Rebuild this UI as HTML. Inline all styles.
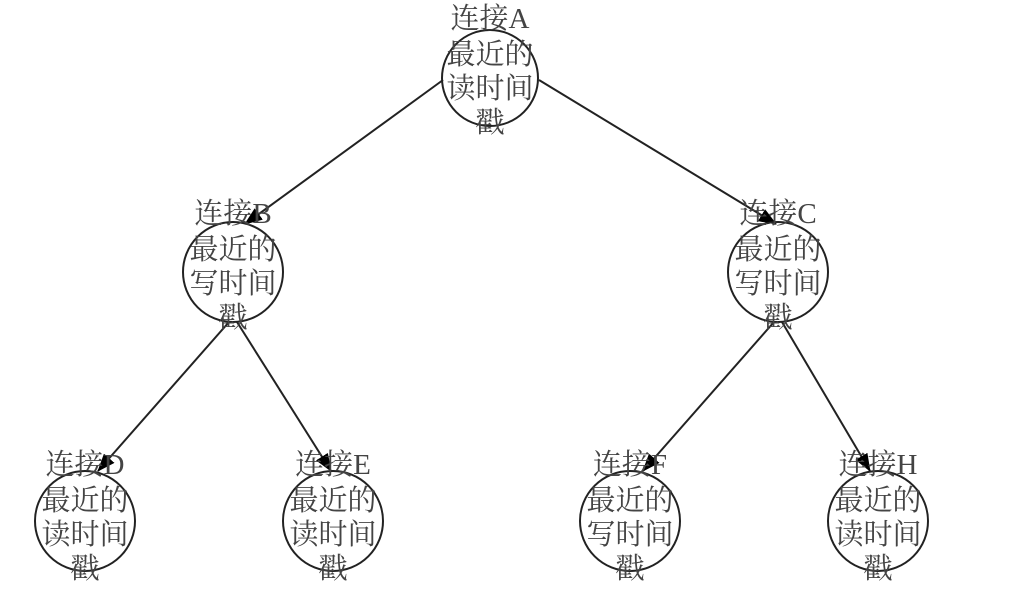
<!DOCTYPE html>
<html><head><meta charset="utf-8"><style>
html,body{margin:0;padding:0;background:#fff;}
svg{display:block}
text{font-family:"Liberation Serif","Noto Serif CJK SC",serif;font-size:29px;fill:#444;text-anchor:middle;dominant-baseline:central}
</style></head><body>
<svg width="1024" height="593" viewBox="0 0 1024 593">
<defs><marker id="a" markerWidth="18" markerHeight="14" refX="17" refY="7" orient="auto" markerUnits="userSpaceOnUse" viewBox="0 0 18 14"><path d="M0,0 L18,7 L0,14 z" fill="#000"/></marker></defs>
<g stroke="#222" stroke-width="2" fill="none">
<line x1="443" y1="80" x2="245" y2="224" marker-end="url(#a)"/>
<line x1="539" y1="80" x2="776" y2="224" marker-end="url(#a)"/>
<line x1="229" y1="322" x2="98" y2="471" marker-end="url(#a)"/>
<line x1="237" y1="322" x2="331" y2="471" marker-end="url(#a)"/>
<line x1="774" y1="322" x2="643" y2="471" marker-end="url(#a)"/>
<line x1="782" y1="322" x2="870" y2="471" marker-end="url(#a)"/>
<circle cx="490" cy="78" r="48"/>
<circle cx="233" cy="272" r="50"/>
<circle cx="778" cy="272" r="50"/>
<circle cx="85" cy="521" r="50"/>
<circle cx="333" cy="521" r="50"/>
<circle cx="630" cy="521" r="50"/>
<circle cx="878" cy="521" r="50"/>
</g>
<g>
<text x="490" y="19">连接A</text><text x="490" y="55">最近的</text><text x="490" y="89">读时间</text><text x="490" y="123">戳</text>
<text x="233" y="214">连接B</text><text x="233" y="250">最近的</text><text x="233" y="284">写时间</text><text x="233" y="318">戳</text>
<text x="778" y="214">连接C</text><text x="778" y="250">最近的</text><text x="778" y="284">写时间</text><text x="778" y="318">戳</text>
<text x="85" y="465">连接D</text><text x="85" y="501">最近的</text><text x="85" y="535">读时间</text><text x="85" y="569">戳</text>
<text x="333" y="465">连接E</text><text x="333" y="501">最近的</text><text x="333" y="535">读时间</text><text x="333" y="569">戳</text>
<text x="630" y="465">连接F</text><text x="630" y="501">最近的</text><text x="630" y="535">写时间</text><text x="630" y="569">戳</text>
<text x="878" y="465">连接H</text><text x="878" y="501">最近的</text><text x="878" y="535">读时间</text><text x="878" y="569">戳</text>
</g>
</svg>
</body></html>
